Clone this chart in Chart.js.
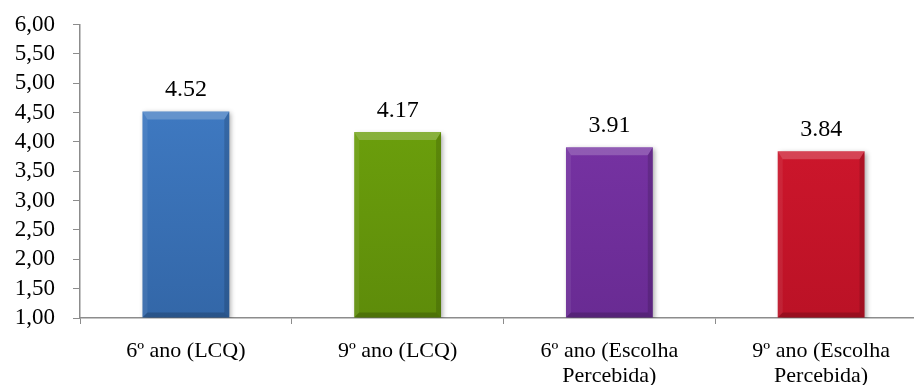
<!DOCTYPE html>
<html>
<head>
<meta charset="utf-8">
<script src="https://cdn.jsdelivr.net/npm/chart.js@4"></script>
<style>
  html, body { margin: 0; padding: 0; background: #ffffff; overflow: hidden; }
  #wrap { width: 914px; height: 385px; overflow: hidden; }
  canvas { display: block; }
</style>
</head>
<body>
<div id="wrap"><canvas id="c" width="927" height="385"></canvas></div>
<script>
// Categories and mean scores
const categories = [
  '6º ano (LCQ)',
  '9º ano (LCQ)',
  ['6º ano (Escolha', 'Percebida)'],
  ['9º ano (Escolha', 'Percebida)']
];
const scores = [4.52, 4.17, 3.91, 3.84];
const barColors = ['#4380cb', '#72a80d', '#7e37ac', '#d8192f'];
const barColorsDark = ['#3367a8', '#5e8c0a', '#692b93', '#bb1226'];

// y-axis range and tick step
const yMin = 1;
const yMax = 6;
const yStep = 0.5;

const FONT = "'Liberation Serif', 'Times New Roman', serif";
const AXIS_GREY = '#8c8c8c';

// Bevelled bar faces and a soft drop shadow
const bevelPlugin = {
  id: 'bevel',
  beforeDatasetsDraw(chart) {
    const ctx = chart.ctx;
    ctx.save();
    ctx.shadowColor = 'rgba(0,0,0,0.35)';
    ctx.shadowBlur = 5;
    ctx.shadowOffsetX = 2;
    ctx.shadowOffsetY = 2;
  },
  afterDatasetsDraw(chart) {
    const ctx = chart.ctx;
    ctx.restore();
    const meta = chart.getDatasetMeta(0);
    meta.data.forEach((bar) => {
      const p = bar.getProps(['x', 'y', 'base', 'width'], true);
      const l = p.x - p.width / 2, r = p.x + p.width / 2;
      const t = p.y, b = p.base;
      const bt = 8, bs = 5;
      const poly = (pts, fill) => {
        ctx.beginPath();
        ctx.moveTo(pts[0][0], pts[0][1]);
        for (let i = 1; i < pts.length; i++) ctx.lineTo(pts[i][0], pts[i][1]);
        ctx.closePath();
        ctx.fillStyle = fill;
        ctx.fill();
      };
      ctx.save();
      poly([[l, t], [r, t], [r - bs, t + bt], [l + bs, t + bt]], 'rgba(255,255,255,0.20)');
      poly([[l, t], [l + bs, t + bt], [l + bs, b - bs], [l, b]], 'rgba(255,255,255,0.07)');
      poly([[r, t], [r - bs, t + bt], [r - bs, b - bs], [r, b]], 'rgba(0,0,0,0.14)');
      poly([[l, b], [l + bs, b - bs], [r - bs, b - bs], [r, b]], 'rgba(0,0,0,0.18)');
      ctx.restore();
    });
  }
};

// Value labels above each bar
const valueLabels = {
  id: 'valueLabels',
  afterDatasetsDraw(chart) {
    const ctx = chart.ctx;
    const meta = chart.getDatasetMeta(0);
    ctx.save();
    ctx.font = '24px ' + FONT;
    ctx.fillStyle = '#000000';
    ctx.textAlign = 'center';
    ctx.textBaseline = 'alphabetic';
    meta.data.forEach((bar, i) => {
      ctx.fillText(scores[i].toFixed(2), bar.x, bar.y - 15);
    });
    ctx.restore();
  }
};

const ctx = document.getElementById('c').getContext('2d');
new Chart(ctx, {
  type: 'bar',
  data: {
    labels: categories,
    datasets: [{
      data: scores,
      base: yMin,
      backgroundColor: (c) => {
        const i = c.dataIndex;
        const area = c.chart.chartArea;
        if (!area) return barColors[i];
        const g = c.chart.ctx.createLinearGradient(0, area.top, 0, area.bottom);
        g.addColorStop(0, barColors[i]);
        g.addColorStop(1, barColorsDark[i]);
        return g;
      },
      borderWidth: 0,
      categoryPercentage: 1,
      barPercentage: 0.41
    }]
  },
  options: {
    responsive: false,
    animation: false,
    devicePixelRatio: 1,
    layout: { padding: { top: 24.5, right: 0, bottom: 0, left: 0 } },
    plugins: {
      legend: { display: false },
      title: { display: false },
      tooltip: { enabled: false }
    },
    scales: {
      x: {
        grid: {
          offset: true,
          drawOnChartArea: false,
          drawTicks: true,
          tickLength: 6,
          color: AXIS_GREY
        },
        border: { color: AXIS_GREY, width: 1.5 },
        ticks: {
          color: '#000000',
          font: { family: FONT, size: 22, lineHeight: 1.13 },
          padding: 15,
          maxRotation: 0,
          autoSkip: false
        },
        afterFit(scale) { scale.height = 67; }
      },
      y: {
        min: yMin,
        max: yMax,
        grid: {
          drawOnChartArea: false,
          drawTicks: true,
          tickLength: 7,
          color: AXIS_GREY
        },
        border: { color: AXIS_GREY, width: 1.5 },
        ticks: {
          stepSize: yStep,
          autoSkip: false,
          color: '#000000',
          font: { family: FONT, size: 23 },
          padding: 18,
          callback: (v) => v.toFixed(2).replace('.', ',')
        },
        afterFit(scale) {
          scale.width = 80;
          scale.paddingTop = 0;
          scale.paddingBottom = 0;
        }
      }
    }
  },
  plugins: [bevelPlugin, valueLabels]
});
</script>
</body>
</html>
